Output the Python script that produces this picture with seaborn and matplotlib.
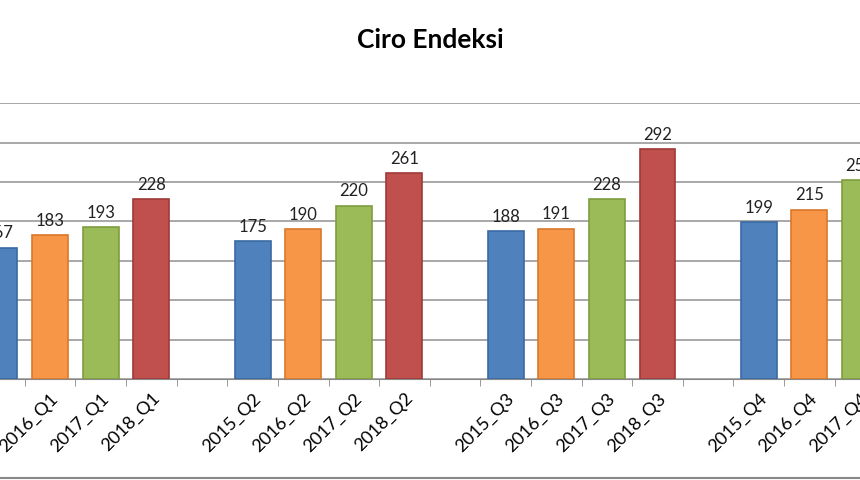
import matplotlib
matplotlib.use("Agg")
import matplotlib.pyplot as plt
import seaborn as sns
import pandas as pd
import numpy as np

labels = ["2015_Q1","2016_Q1","2017_Q1","2018_Q1"," ",
          "2015_Q2","2016_Q2","2017_Q2","2018_Q2","  ",
          "2015_Q3","2016_Q3","2017_Q3","2018_Q3","   ",
          "2015_Q4","2016_Q4","2017_Q4","2018_Q4"]
values = [167,183,193,228,np.nan,
          175,190,220,261,np.nan,
          188,191,228,292,np.nan,
          199,215,252,280]
years = ["2015","2016","2017","2018",""]*3 + ["2015","2016","2017","2018"]
palette = {"2015":"#4F81BD","2016":"#F79646","2017":"#9BBB59","2018":"#C0504D","":"#FFFFFF"}
edges = {"2015":"#3A6AA3","2016":"#D9782B","2017":"#7E9E3E","2018":"#9E3A37","":"#FFFFFF"}

df = pd.DataFrame({"label":labels,"value":values,"year":years})

plt.rcParams["font.family"] = "Lato"
fig = plt.figure(figsize=(8.6,4.8), dpi=100)
ax = fig.add_axes([0.0, 0.21, 1.0, 0.575])
sns.barplot(data=df, x="label", y="value", hue="year", palette=palette,
            order=labels, dodge=False, width=0.71, legend=False, saturation=1, ax=ax)
for p in ax.patches:
    h = p.get_height()
    if h and not np.isnan(h):
        x = p.get_x()+p.get_width()/2
        idx = int(round(x))
        p.set_edgecolor(edges[years[idx]])
        p.set_linewidth(1.2)
        p.set_zorder(3)
        ax.text(x, h+8, f"{int(h)}", ha="center", va="bottom",
                fontsize=12, color="#222222")
ax.set_yticks(np.arange(0, 351, 50))
ax.yaxis.grid(True, color="#9a9a9a", linewidth=1.2)
ax.set_axisbelow(True)
ax.tick_params(axis="y", left=False, labelleft=False)
ax.set_xticks(range(len(labels)))
ax.set_xticklabels(labels, rotation=45, ha="right", rotation_mode="anchor", fontsize=13)
ax.tick_params(axis="x", length=0, pad=8)
ax.set_xticks(np.arange(-0.5, len(labels), 1), minor=True)
ax.tick_params(axis="x", which="minor", length=5, color="#888888")
for s in ["top","right","left"]:
    ax.spines[s].set_visible(False)
ax.spines["bottom"].set_color("#888888")
ax.set_xlabel(""); ax.set_ylabel("")
ax.set_xlim(0.01, 17.0)
ax.set_ylim(0, 350)
fig.text(0.5, 0.917, "Ciro Endeksi", ha="center", va="center", fontsize=19, fontweight="bold")
fig.add_artist(plt.Line2D([0,1],[0.005,0.005], color="#888888", linewidth=1.5))
fig.savefig("out.png", dpi=100)
